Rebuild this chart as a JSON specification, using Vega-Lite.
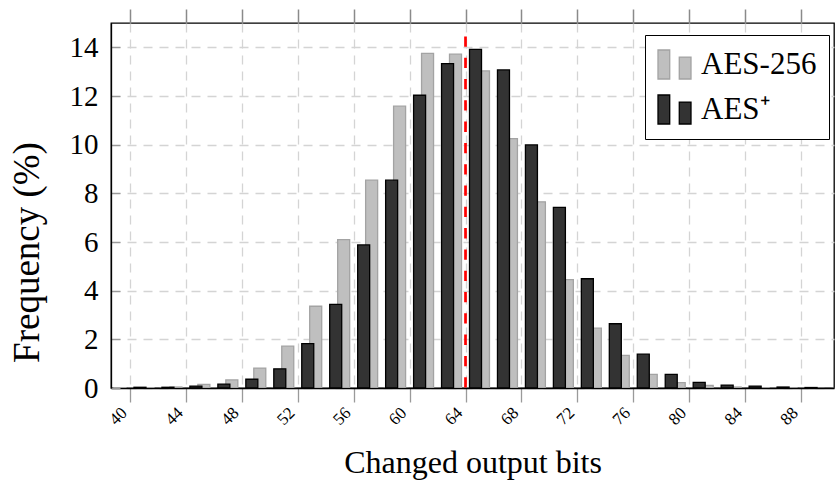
{
  "$schema": "https://vega.github.io/schema/vega-lite/v6.json",
  "width": 723,
  "height": 365,
  "autosize": {"type": "none"},
  "padding": {"left": 111, "top": 23, "right": 3, "bottom": 99},
  "background": "white",
  "config": {
    "font": "Liberation Serif",
    "view": {"stroke": "black", "strokeWidth": 1.3}
  },
  "datasets": {
    "freq": [
      {"bits": 40, "series": "AES-256", "freq": 0.01},
      {"bits": 42, "series": "AES-256", "freq": 0.01},
      {"bits": 44, "series": "AES-256", "freq": 0.04},
      {"bits": 46, "series": "AES-256", "freq": 0.15},
      {"bits": 48, "series": "AES-256", "freq": 0.33},
      {"bits": 50, "series": "AES-256", "freq": 0.82},
      {"bits": 52, "series": "AES-256", "freq": 1.72},
      {"bits": 54, "series": "AES-256", "freq": 3.36},
      {"bits": 56, "series": "AES-256", "freq": 6.1},
      {"bits": 58, "series": "AES-256", "freq": 8.54},
      {"bits": 60, "series": "AES-256", "freq": 11.58},
      {"bits": 62, "series": "AES-256", "freq": 13.75},
      {"bits": 64, "series": "AES-256", "freq": 13.72},
      {"bits": 66, "series": "AES-256", "freq": 13.03},
      {"bits": 68, "series": "AES-256", "freq": 10.25},
      {"bits": 70, "series": "AES-256", "freq": 7.65},
      {"bits": 72, "series": "AES-256", "freq": 4.45},
      {"bits": 74, "series": "AES-256", "freq": 2.46},
      {"bits": 76, "series": "AES-256", "freq": 1.34},
      {"bits": 78, "series": "AES-256", "freq": 0.56},
      {"bits": 80, "series": "AES-256", "freq": 0.22},
      {"bits": 82, "series": "AES-256", "freq": 0.11},
      {"bits": 84, "series": "AES-256", "freq": 0.04},
      {"bits": 86, "series": "AES-256", "freq": 0.01},
      {"bits": 88, "series": "AES-256", "freq": 0.005},
      {"bits": 40, "series": "AES⁺", "freq": 0.03},
      {"bits": 42, "series": "AES⁺", "freq": 0.03},
      {"bits": 44, "series": "AES⁺", "freq": 0.08},
      {"bits": 46, "series": "AES⁺", "freq": 0.16},
      {"bits": 48, "series": "AES⁺", "freq": 0.36},
      {"bits": 50, "series": "AES⁺", "freq": 0.79},
      {"bits": 52, "series": "AES⁺", "freq": 1.82},
      {"bits": 54, "series": "AES⁺", "freq": 3.44},
      {"bits": 56, "series": "AES⁺", "freq": 5.88},
      {"bits": 58, "series": "AES⁺", "freq": 8.54},
      {"bits": 60, "series": "AES⁺", "freq": 12.03},
      {"bits": 62, "series": "AES⁺", "freq": 13.33},
      {"bits": 64, "series": "AES⁺", "freq": 13.92},
      {"bits": 66, "series": "AES⁺", "freq": 13.07},
      {"bits": 68, "series": "AES⁺", "freq": 9.99},
      {"bits": 70, "series": "AES⁺", "freq": 7.42},
      {"bits": 72, "series": "AES⁺", "freq": 4.49},
      {"bits": 74, "series": "AES⁺", "freq": 2.64},
      {"bits": 76, "series": "AES⁺", "freq": 1.39},
      {"bits": 78, "series": "AES⁺", "freq": 0.56},
      {"bits": 80, "series": "AES⁺", "freq": 0.23},
      {"bits": 82, "series": "AES⁺", "freq": 0.12},
      {"bits": 84, "series": "AES⁺", "freq": 0.08},
      {"bits": 86, "series": "AES⁺", "freq": 0.04},
      {"bits": 88, "series": "AES⁺", "freq": 0.02}
    ],
    "ref": [{"bits": 64, "lo": 0, "hi": 14.45}]
  },
  "layer": [
    {
      "data": {"name": "freq"},
      "transform": [{"filter": "datum.series === 'AES-256'"}],
      "mark": {"type": "bar", "width": 12, "xOffset": -10, "strokeWidth": 1.3, "clip": true},
      "encoding": {
        "x": {
          "field": "bits", "type": "quantitative",
          "scale": {"domain": [39, 90], "nice": false, "zero": false},
          "axis": {
            "title": "Changed output bits",
            "titleFontSize": 32, "titleFontWeight": "normal", "titleColor": "black",
            "titlePadding": 20,
            "values": [40, 44, 48, 52, 56, 60, 64, 68, 72, 76, 80, 84, 88],
            "labelAngle": -45, "labelAlign": "right", "labelBaseline": "middle",
            "labelFontSize": 17, "labelColor": "black", "labelPadding": 8, "labelOffset": -6,
            "tickSize": 14, "tickColor": "#9a9a9a", "tickWidth": 1.3,
            "domainColor": "black", "domainWidth": 1.3,
            "grid": true, "gridColor": "#d4d4d4", "gridDash": [9, 7], "gridWidth": 1.3
          }
        },
        "y": {
          "field": "freq", "type": "quantitative",
          "scale": {"domain": [0, 15], "nice": false},
          "axis": {
            "title": "Frequency (%)",
            "titleFontSize": 37, "titleFontWeight": "normal", "titleColor": "black",
            "titleX": -84, "titleY": 229, "titleAngle": -90, "titleAlign": "center", "titleBaseline": "middle",
            "values": [0, 2, 4, 6, 8, 10, 12, 14],
            "labelFontSize": 29, "labelColor": "black", "labelPadding": 22,
            "tickSize": -9, "tickColor": "#9a9a9a", "tickWidth": 1.3,
            "domainColor": "black", "domainWidth": 1.3,
            "grid": true, "gridColor": "#d4d4d4", "gridDash": [9, 7], "gridWidth": 1.3
          }
        },
        "fill": {
          "field": "series", "type": "nominal",
          "scale": {"domain": ["AES-256", "AES⁺"], "range": ["#bfbfbf", "#333333"]},
          "legend": {
            "title": null, "orient": "none", "legendX": 534, "legendY": 12,
            "strokeColor": "black", "fillColor": "white", "padding": 12,
            "symbolType": "M-1,0.88V-0.88H-0.29V0.88Z M0.29,0.88V-0.45H1V0.88Z",
            "symbolSize": 1089, "symbolStrokeWidth": 1.3, "symbolOpacity": 1,
            "labelFontSize": 31, "labelColor": "black", "labelOffset": 9, "labelLimit": 300,
            "rowPadding": 10
          }
        },
        "stroke": {
          "field": "series", "type": "nominal",
          "scale": {"domain": ["AES-256", "AES⁺"], "range": ["#a3a3a3", "#000000"]}
        }
      }
    },
    {
      "data": {"name": "freq"},
      "transform": [{"filter": "datum.series === 'AES⁺'"}],
      "mark": {"type": "bar", "width": 12, "xOffset": 10, "strokeWidth": 1.3, "clip": true},
      "encoding": {
        "x": {
          "field": "bits", "type": "quantitative",
          "axis": {
            "orient": "top", "title": null, "labels": false, "grid": false, "ticks": true, "domain": false,
            "values": [40, 44, 48, 52, 56, 60, 64, 68, 72, 76, 80, 84, 88],
            "tickSize": 14, "tickColor": "#8a8a8a", "tickWidth": 1.5
          }
        },
        "y": {"field": "freq", "type": "quantitative"},
        "fill": {"field": "series", "type": "nominal"},
        "stroke": {"field": "series", "type": "nominal"}
      }
    },
    {
      "data": {"name": "ref"},
      "mark": {"type": "rule", "color": "#ff0000", "strokeWidth": 2.7, "strokeDash": [10.3, 11]},
      "encoding": {
        "x": {"field": "bits", "type": "quantitative", "axis": null},
        "y": {"field": "hi", "type": "quantitative", "scale": {"domain": [0, 15], "nice": false}},
        "y2": {"field": "lo"}
      }
    }
  ],
  "resolve": {"axis": {"x": "independent"}}
}
